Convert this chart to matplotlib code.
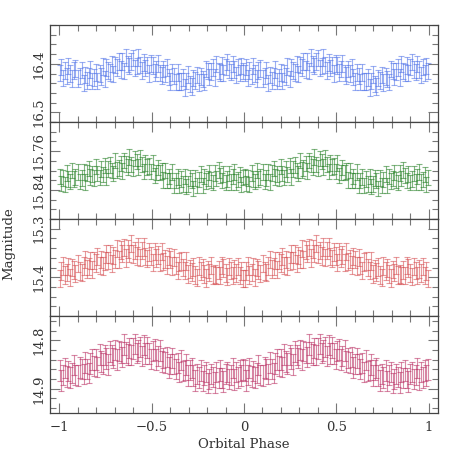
"""Four-band folded light curves, stacked panels sharing orbital phase."""
import matplotlib
matplotlib.use("Agg")
import matplotlib.pyplot as plt
import numpy as np
from matplotlib.ticker import FixedLocator, MultipleLocator

# orbital phase of each observation (folded to 0..1, drawn twice)
phase = [
    0.003, 0.012, 0.021, 0.029, 0.041, 0.050, 0.058, 0.069, 0.078, 0.088,
    0.104, 0.113, 0.121, 0.132, 0.141, 0.150, 0.161, 0.169, 0.178, 0.190,
    0.198, 0.207, 0.218, 0.226, 0.235, 0.247, 0.255, 0.264, 0.276, 0.285,
    0.293, 0.304, 0.313, 0.322, 0.333, 0.341, 0.352, 0.361, 0.371, 0.380,
    0.391, 0.400, 0.409, 0.420, 0.428, 0.437, 0.449, 0.458, 0.466, 0.477,
    0.487, 0.496, 0.505, 0.516, 0.524, 0.533, 0.545, 0.554, 0.563, 0.573,
    0.584, 0.592, 0.601, 0.612, 0.621, 0.630, 0.641, 0.650, 0.659, 0.669,
    0.680, 0.688, 0.697, 0.708, 0.717, 0.726, 0.737, 0.746, 0.755, 0.766,
    0.776, 0.784, 0.793, 0.804, 0.813, 0.822, 0.833, 0.842, 0.851, 0.862,
    0.872, 0.881, 0.889, 0.900, 0.909, 0.918, 0.929, 0.938, 0.947, 0.958,
    0.968, 0.977, 0.986, 0.995,
]

mag_blue = [
    16.419, 16.407, 16.429, 16.414, 16.425, 16.405, 16.420, 16.430, 16.414, 16.410,
    16.430, 16.425, 16.413, 16.440, 16.423, 16.434, 16.426, 16.412, 16.435, 16.428,
    16.418, 16.435, 16.420, 16.426, 16.406, 16.431, 16.408, 16.414, 16.418, 16.400,
    16.421, 16.403, 16.408, 16.395, 16.412, 16.395, 16.415, 16.387, 16.400, 16.405,
    16.395, 16.388, 16.409, 16.405, 16.387, 16.403, 16.414, 16.397, 16.409, 16.403,
    16.420, 16.399, 16.404, 16.418, 16.411, 16.399, 16.419, 16.424, 16.411, 16.420,
    16.408, 16.427, 16.436, 16.418, 16.425, 16.437, 16.418, 16.436, 16.436, 16.428,
    16.449, 16.435, 16.422, 16.442, 16.447, 16.429, 16.434, 16.423, 16.439, 16.426,
    16.431, 16.437, 16.411, 16.415, 16.427, 16.416, 16.408, 16.428, 16.400, 16.415,
    16.418, 16.404, 16.419, 16.407, 16.396, 16.412, 16.417, 16.400, 16.412, 16.423,
    16.407, 16.419, 16.405, 16.415,
]

mag_green = [
    15.812, 15.827, 15.815, 15.829, 15.805, 15.818, 15.823, 15.800, 15.818, 15.813,
    15.803, 15.823, 15.815, 15.803, 15.824, 15.805, 15.796, 15.813, 15.807, 15.815,
    15.792, 15.806, 15.814, 15.797, 15.808, 15.790, 15.813, 15.797, 15.789, 15.800,
    15.806, 15.779, 15.799, 15.795, 15.786, 15.801, 15.779, 15.787, 15.793, 15.772,
    15.788, 15.795, 15.775, 15.781, 15.793, 15.774, 15.788, 15.802, 15.784, 15.793,
    15.791, 15.802, 15.784, 15.810, 15.804, 15.794, 15.804, 15.801, 15.820, 15.800,
    15.821, 15.812, 15.821, 15.803, 15.831, 15.821, 15.813, 15.831, 15.818, 15.828,
    15.812, 15.833, 15.828, 15.815, 15.821, 15.837, 15.815, 15.831, 15.819, 15.807,
    15.831, 15.812, 15.822, 15.816, 15.804, 15.820, 15.825, 15.805, 15.816, 15.799,
    15.810, 15.821, 15.807, 15.825, 15.817, 15.806, 15.824, 15.812, 15.803, 15.824,
    15.819, 15.808, 15.829, 15.814,
]

mag_red = [
    15.403, 15.387, 15.377, 15.395, 15.390, 15.378, 15.401, 15.380, 15.385, 15.392,
    15.372, 15.387, 15.390, 15.377, 15.363, 15.383, 15.378, 15.366, 15.384, 15.366,
    15.371, 15.357, 15.376, 15.363, 15.377, 15.367, 15.352, 15.366, 15.352, 15.372,
    15.355, 15.362, 15.341, 15.363, 15.344, 15.351, 15.339, 15.360, 15.342, 15.351,
    15.330, 15.352, 15.345, 15.356, 15.338, 15.359, 15.345, 15.338, 15.357, 15.361,
    15.348, 15.356, 15.370, 15.347, 15.360, 15.354, 15.370, 15.347, 15.368, 15.362,
    15.375, 15.357, 15.364, 15.377, 15.359, 15.376, 15.386, 15.369, 15.367, 15.380,
    15.386, 15.367, 15.393, 15.383, 15.389, 15.379, 15.395, 15.401, 15.377, 15.387,
    15.381, 15.393, 15.402, 15.384, 15.390, 15.376, 15.395, 15.393, 15.397, 15.385,
    15.397, 15.376, 15.381, 15.391, 15.399, 15.378, 15.386, 15.396, 15.383, 15.391,
    15.378, 15.397, 15.387, 15.403,
]

mag_magenta = [
    14.862, 14.883, 14.871, 14.857, 14.875, 14.864, 14.877, 14.867, 14.851, 14.871,
    14.873, 14.856, 14.859, 14.870, 14.846, 14.859, 14.867, 14.848, 14.840, 14.853,
    14.840, 14.855, 14.829, 14.844, 14.848, 14.831, 14.838, 14.850, 14.823, 14.830,
    14.837, 14.820, 14.840, 14.822, 14.825, 14.834, 14.809, 14.825, 14.829, 14.816,
    14.831, 14.817, 14.808, 14.826, 14.821, 14.814, 14.832, 14.810, 14.827, 14.815,
    14.827, 14.839, 14.822, 14.819, 14.840, 14.833, 14.821, 14.844, 14.836, 14.846,
    14.835, 14.856, 14.849, 14.836, 14.849, 14.859, 14.847, 14.866, 14.841, 14.864,
    14.861, 14.850, 14.873, 14.861, 14.857, 14.873, 14.883, 14.869, 14.877, 14.862,
    14.884, 14.872, 14.865, 14.888, 14.880, 14.870, 14.876, 14.887, 14.866, 14.878,
    14.862, 14.878, 14.885, 14.870, 14.865, 14.880, 14.872, 14.857, 14.881, 14.866,
    14.877, 14.862, 14.873, 14.860,
]

# per-band photometric error (mag)
err_blue = 0.017
err_green = 0.016
err_red = 0.018
err_magenta = 0.021

# (top, bottom) limits and labelled ticks of each panel
ylims = [(16.52, 16.32), (15.90, 15.70), (15.48, 15.28), (14.95, 14.75)]
yticks = [[16.4, 16.5], [15.76, 15.84], [15.3, 15.4], [14.8, 14.9]]
yticklabels = [["16.4", "16.5"], ["15.76", "15.84"], ["15.3", "15.4"], ["14.8", "14.9"]]
xticks = [-1, -0.5, 0, 0.5, 1]
xticklabels = ["\u22121", "\u22120.5", "0", "0.5", "1"]

plt.rcParams["font.family"] = "DejaVu Serif"

fig = plt.figure(figsize=(4.63, 4.63), dpi=100)
left, width = 50 / 463, 388 / 463
ph = 97 / 463
bottom0 = 50 / 463

bands = [
    (mag_blue, err_blue, "#4a6ee8"),
    (mag_green, err_green, "#1b7a1b"),
    (mag_red, err_red, "#d5484c"),
    (mag_magenta, err_magenta, "#b8285e"),
]

p = np.array(phase)
x = np.concatenate([p - 1, p])
for i, (mag, err, col) in enumerate(bands):
    ax = fig.add_axes([left, bottom0 + (3 - i) * ph, width, ph])
    y = np.concatenate([mag, mag])
    ax.errorbar(x, y, yerr=err, fmt="none", ecolor=col, elinewidth=0.8,
                capsize=2, capthick=0.8, alpha=0.55)
    ax.set_xlim(-1.05, 1.05)
    ax.set_ylim(*ylims[i])
    ax.yaxis.set_major_locator(FixedLocator(yticks[i]))
    ax.set_yticklabels(yticklabels[i], rotation=90, va="center", fontsize=9.5,
                       color="#333333")
    ax.yaxis.set_minor_locator(MultipleLocator(0.02))
    ax.xaxis.set_major_locator(FixedLocator(xticks))
    ax.xaxis.set_minor_locator(MultipleLocator(0.1))
    ax.tick_params(which="both", direction="in", top=True, right=True,
                   color="#777777", width=0.8)
    ax.tick_params(which="major", length=7)
    ax.tick_params(which="minor", length=4)
    ax.tick_params(axis="x", which="major", pad=6)
    for s in ax.spines.values():
        s.set_color("#444444")
        s.set_linewidth(0.9)
    if i < 3:
        ax.set_xticklabels([])
    else:
        ax.set_xticklabels(xticklabels, fontsize=9.5, color="#333333")
        ax.set_xlabel("Orbital Phase", fontsize=9.5, color="#333333", labelpad=3)

fig.text(0.018, 0.473, "Magnitude", rotation=90, va="center", ha="center",
         fontsize=9.5, color="#333333")

fig.savefig("out.png", dpi=100)
